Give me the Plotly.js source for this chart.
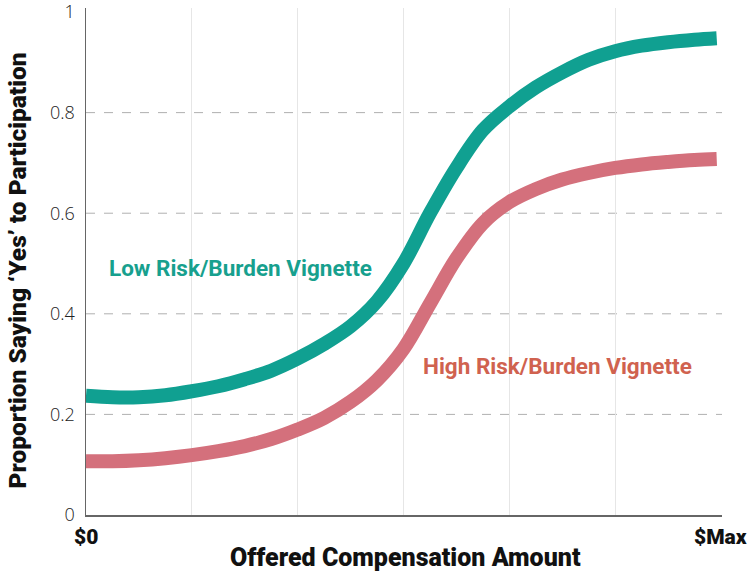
<!DOCTYPE html>
<html>
<head>
<meta charset="utf-8">
<script src="https://cdn.plot.ly/plotly-3.0.1.min.js"></script>
<style>html,body{margin:0;padding:0;background:#fff;}#chart{width:750px;height:576px;}</style>
</head>
<body>
<div id="chart"></div>
<script>
// Offered compensation (0 = $0, 6 = $Max)
const compX = [0, 0.25, 0.5, 0.75, 1.0, 1.25, 1.5, 1.75, 2.0, 2.25, 2.5, 2.75, 3.0, 3.25, 3.5, 3.75, 4.0, 4.25, 4.5, 4.75, 5.0, 5.25, 5.5, 5.75, 5.96];
const lowY  = [0.237, 0.234, 0.234, 0.238, 0.246, 0.256, 0.270, 0.287, 0.311, 0.340, 0.375, 0.425, 0.500, 0.600, 0.690, 0.765, 0.812, 0.850, 0.880, 0.905, 0.922, 0.933, 0.940, 0.945, 0.948];
const highY = [0.107, 0.107, 0.109, 0.113, 0.119, 0.127, 0.137, 0.151, 0.170, 0.193, 0.225, 0.268, 0.330, 0.420, 0.510, 0.580, 0.622, 0.648, 0.667, 0.680, 0.690, 0.697, 0.702, 0.706, 0.708];

const yTickVals = [0, 0.2, 0.4, 0.6, 0.8, 1];
const yTickText = ['0', '0.2', '0.4', '0.6', '0.8', '1'];
const yGridVals = [0.2, 0.4, 0.6, 0.8];
const xGridVals = [1, 2, 3, 4, 5];
const xEndLabels = [{x: 0, text: '$0'}, {x: 6, text: '$Max'}];

const seriesNames = ['Low Risk/Burden Vignette', 'High Risk/Burden Vignette'];

const traces = [
  {x: compX, y: lowY, type: 'scatter', mode: 'lines', name: seriesNames[0],
   line: {color: '#10a091', width: 14, shape: 'spline', smoothing: 1}},
  {x: compX, y: highY, type: 'scatter', mode: 'lines', name: seriesNames[1],
   line: {color: '#d4707c', width: 14, shape: 'spline', smoothing: 1}}
];

const shapes = yGridVals.map(v => ({
  type: 'line', xref: 'paper', yref: 'y', x0: 0, x1: 1, y0: v, y1: v,
  line: {color: '#b0b0b0', width: 1, dash: 'dash'}, layer: 'below'
}));

const heavy = 'Roboto, "Liberation Sans", Arial, sans-serif';

const annotations = [
  {text: 'Offered Compensation Amount', xref: 'paper', yref: 'paper', x: 0.5016, y: -0.083,
   xanchor: 'center', yanchor: 'middle', showarrow: false,
   font: {family: heavy, size: 25, color: '#111', weight: 900}},
  {text: 'Proportion Saying ‘Yes’ to Participation', xref: 'paper', yref: 'paper', x: -0.108, y: 0.483,
   xanchor: 'center', yanchor: 'middle', textangle: -90, showarrow: false,
   font: {family: heavy, size: 24.5, color: '#111', weight: 900}},
  {text: seriesNames[0], xref: 'x', yref: 'y', x: 1.456, y: 0.491, showarrow: false,
   xanchor: 'center', yanchor: 'middle', font: {family: heavy, size: 22.5, color: '#17a08e', weight: 700}},
  {text: seriesNames[1], xref: 'x', yref: 'y', x: 4.46, y: 0.296, showarrow: false,
   xanchor: 'center', yanchor: 'middle', font: {family: heavy, size: 22.5, color: '#d0624f', weight: 700}}
].concat(xEndLabels.map(l => ({
  text: l.text, xref: 'x', yref: 'paper', x: l.x, y: -0.043, showarrow: false,
  xanchor: 'center', yanchor: 'middle', font: {family: heavy, size: 21, color: '#111', weight: 900}
})));

const layout = {
  width: 750, height: 576,
  margin: {l: 86, r: 28, t: 8, b: 61},
  paper_bgcolor: '#fff', plot_bgcolor: '#fff',
  showlegend: false,
  xaxis: {range: [0, 6.01], tickvals: xGridVals, showticklabels: false, ticks: '',
          showgrid: true, gridcolor: '#e6e6e6', gridwidth: 1, zeroline: false,
          showline: true, linecolor: '#666', linewidth: 1.5},
  yaxis: {range: [0, 1.008], tickvals: yTickVals, ticktext: yTickText, ticks: '',
          showgrid: false, zeroline: false, showline: true, linecolor: '#666', linewidth: 1.5,
          tickfont: {family: '"Open Sans", "Liberation Sans", sans-serif', size: 18, color: '#222', weight: 300},
          ticklabelstandoff: 6, ticklabeloverflow: 'allow'},
  shapes: shapes,
  annotations: annotations
};

Plotly.newPlot('chart', traces, layout, {displayModeBar: false, staticPlot: true});
</script>
</body>
</html>
